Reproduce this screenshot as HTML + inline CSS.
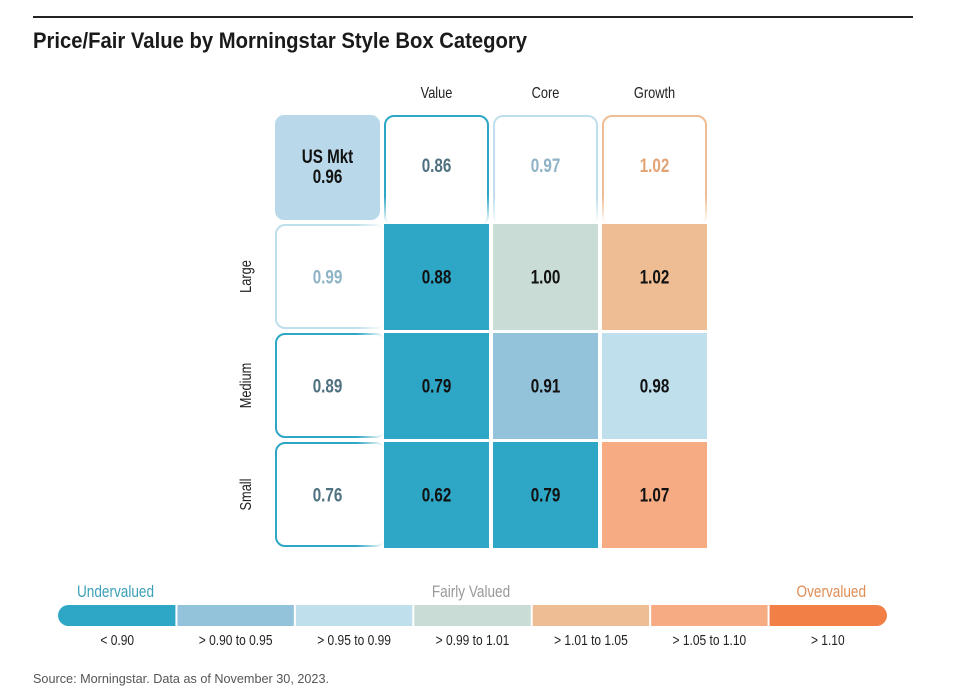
<!DOCTYPE html>
<html><head><meta charset="utf-8"><style>
html,body{margin:0;padding:0;background:#fff;}
svg{display:block;font-family:"Liberation Sans Narrow","Liberation Sans",sans-serif;}
</style></head><body>
<svg id="chart" width="964" height="697" viewBox="0 0 964 697">
<defs>
<linearGradient id="fadeDown" x1="0" y1="0" x2="0" y2="1"><stop offset="0.6" stop-color="#fff" stop-opacity="0"/><stop offset="1" stop-color="#fff" stop-opacity="1"/></linearGradient>
<linearGradient id="fadeRight" x1="0" y1="0" x2="1" y2="0"><stop offset="0.6" stop-color="#fff" stop-opacity="0"/><stop offset="1" stop-color="#fff" stop-opacity="1"/></linearGradient>
</defs>
<line x1="33" y1="17" x2="913" y2="17" stroke="#222" stroke-width="2"/>
<text x="33" y="48" font-size="22" font-weight="bold" fill="#1a1a1a" textLength="494" lengthAdjust="spacingAndGlyphs">Price/Fair Value by Morningstar Style Box Category</text>
<g id="grid"></g>
<g id="legend"></g>
<text x="33" y="683" font-size="13" fill="#555" textLength="296" lengthAdjust="spacingAndGlyphs">Source: Morningstar. Data as of November 30, 2023.</text>
</svg>
<script>
const columns = ["Value","Core","Growth"];
const rows = ["Large","Medium","Small"];
const marketValue = [0.96];
const columnTotals = [0.86, 0.97, 1.02];
const rowTotals = [0.99, 0.89, 0.76];
const cellValues = [[0.88,1.00,1.02],[0.79,0.91,0.98],[0.62,0.79,1.07]];
const legendLabels = ["< 0.90","> 0.90 to 0.95","> 0.95 to 0.99","> 0.99 to 1.01","> 1.01 to 1.05","> 1.05 to 1.10","> 1.10"];
const legendThresholds = [0.90,0.95,0.99,1.01,1.05,1.10];
const legendColors = ["#2ea7c6","#93c3da","#bfdfec","#c9dcd5","#efbd94","#f7ab83","#f27f45"];
const textColors = ["#4f7180","#8fb3c6","#8fb3c6","#8aa0a0","#e3a475","#e79a6f","#e07a40"];

const NS="http://www.w3.org/2000/svg";
const SX=0.8;
function mk(tag, attrs, parent){const e=document.createElementNS(NS,tag);for(const k in attrs)e.setAttribute(k,attrs[k]);parent.appendChild(e);return e;}
function txt(parent,x,y,str,attrs,rot){
  const g=mk('g',{transform:`translate(${x} ${y})`+(rot?` rotate(${rot})`:'')+` scale(${SX} 1)`},parent);
  const t=mk('text',Object.assign({x:0,y:0},attrs),g);
  t.textContent=str;
  return t;
}
function bucket(v){let i=0;while(i<legendThresholds.length && v>legendThresholds[i])i++;return i;}
const X0=275, Y0=115, pitch=109, size=105;
function cx(i){return X0+i*pitch;}
function cy(j){return Y0+j*pitch;}
const grid=document.getElementById('grid');

columns.forEach((c,i)=>{
  const t=txt(grid,cx(i+1)+size/2,98,c,{'font-size':16,'text-anchor':'middle',fill:'#222'});
  
  
});
rows.forEach((r,j)=>{
  const t=txt(grid,251,cy(j+1)+size/2,r,{'font-size':16,'text-anchor':'middle',fill:'#222'},-90);
  
  
});

const mb=mk('rect',{x:cx(0),y:cy(0),width:size,height:size,rx:9,fill:'#b9d9ea'},grid);


let t=txt(grid,cx(0)+size/2,cy(0)+48,'US Mkt',{'font-size':19,'font-weight':'bold','text-anchor':'middle',fill:'#111'});


t=txt(grid,cx(0)+size/2,cy(0)+68,marketValue[0].toFixed(2),{'font-size':19,'font-weight':'bold','text-anchor':'middle',fill:'#111'});



columnTotals.forEach((v,i)=>{
  const b=bucket(v);
  const r=mk('rect',{x:cx(i+1)+1,y:cy(0)+1,width:size-2,height:size+4,rx:9,fill:'#fff',stroke:legendColors[b],'stroke-width':2},grid);
  
  
  mk('rect',{x:cx(i+1)-1,y:cy(0)+40,width:size+2,height:size-36,fill:'url(#fadeDown)'},grid);
  const tx=txt(grid,cx(i+1)+size/2,cy(0)+57,v.toFixed(2),{'font-size':19,'font-weight':'bold','text-anchor':'middle',fill:textColors[b]});
  
  
});
rowTotals.forEach((v,j)=>{
  const b=bucket(v);
  const r=mk('rect',{x:cx(0)+1,y:cy(j+1)+1,width:size+4,height:size-2,rx:9,fill:'#fff',stroke:legendColors[b],'stroke-width':2},grid);
  
  
  mk('rect',{x:cx(0)+40,y:cy(j+1)-1,width:size-36,height:size+2,fill:'url(#fadeRight)'},grid);
  const tx=txt(grid,cx(0)+size/2,cy(j+1)+size/2+7,v.toFixed(2),{'font-size':19,'font-weight':'bold','text-anchor':'middle',fill:textColors[b]});
  
  
});
cellValues.forEach((row,j)=>row.forEach((v,i)=>{
  const b=bucket(v);
  const r=mk('rect',{x:cx(i+1),y:cy(j+1),width:size,height:size+1,fill:legendColors[b]},grid);
  
  
  const tx=txt(grid,cx(i+1)+size/2,cy(j+1)+size/2+7,v.toFixed(2),{'font-size':19,'font-weight':'bold','text-anchor':'middle',fill:'#111'});
  
  
}));

const lg=document.getElementById('legend');
const LX=58, LW=829, LY=605, LH=21, segW=LW/legendColors.length;
const clip=mk('clipPath',{id:'legClip'},lg);
mk('rect',{x:LX,y:LY,width:LW,height:LH,rx:10.5},clip);
const bar=mk('g',{'clip-path':'url(#legClip)'},lg);
legendColors.forEach((c,i)=>{
  const r=mk('rect',{x:LX+i*segW+(i>0?1:0),y:LY,width:segW-(i>0?1:0)-(i<legendColors.length-1?1:0),height:LH,fill:c},bar);
  
  
  const tx=txt(lg,LX+i*segW+segW/2,645,legendLabels[i],{'font-size':15,'text-anchor':'middle',fill:'#222'});
  
  
});
[["Undervalued",77,'start','#3aa0b8'],["Fairly Valued",471,'middle','#999'],["Overvalued",866,'end','#e08d55']].forEach(([s,x,a,c])=>{
  const tx=txt(lg,x,597,s,{'font-size':17,'text-anchor':a,fill:c});
  
  
});
</script>
</body></html>
